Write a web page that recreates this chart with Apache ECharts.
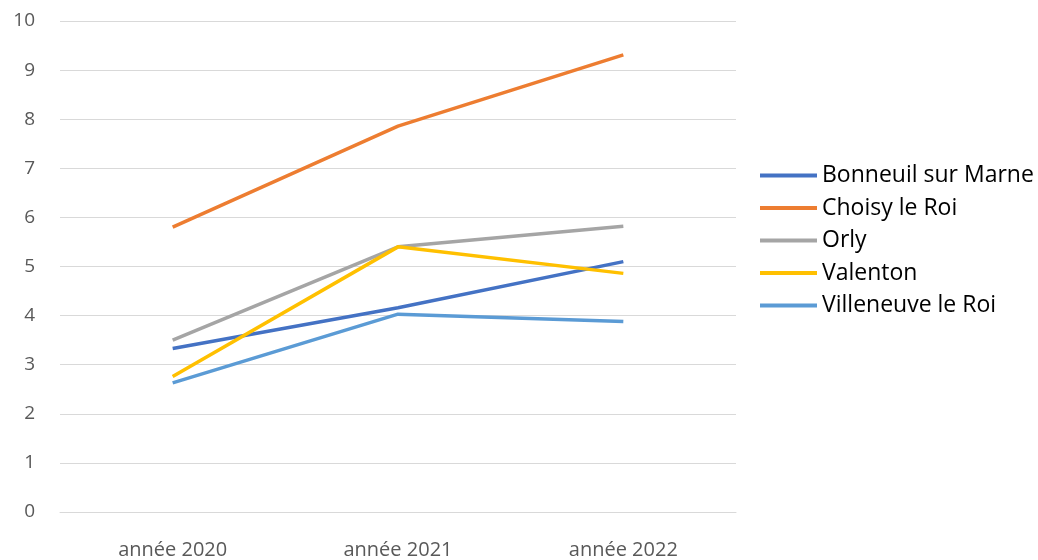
<!DOCTYPE html>
<html><head><meta charset="utf-8">
<script src="https://cdn.jsdelivr.net/npm/echarts@6/dist/echarts.min.js"></script>
<style>html,body{margin:0;padding:0;background:#fff}#c{width:1038px;height:560px}</style>
</head><body><div id="c"></div>
<script>
const categories = ['année 2020', 'année 2021', 'année 2022'];
const seriesNames = ['Bonneuil sur Marne', 'Choisy le Roi', 'Orly', 'Valenton', 'Villeneuve le Roi'];
const bonneuil = [3.33, 4.16, 5.10];
const choisy = [5.80, 7.86, 9.31];
const orly = [3.50, 5.40, 5.82];
const valenton = [2.76, 5.40, 4.86];
const villeneuve = [2.63, 4.03, 3.88];
const yTicks = [0, 10, 1];
const colors = ['#4472C4', '#ED7D31', '#A5A5A5', '#FFC000', '#5B9BD5'];
const values = [bonneuil, choisy, orly, valenton, villeneuve];
const font = '"Open Sans", Lato, sans-serif';
const chart = echarts.init(document.getElementById('c'));
chart.setOption({
  animation: false,
  grid: {left: 60, right: 302, top: 21, bottom: 48},
  legend: {
    orient: 'vertical', left: 760, top: 164, padding: 0,
    itemWidth: 57, itemHeight: 4, itemGap: 9.5, icon: 'rect',
    textStyle: {fontFamily: font, fontSize: 23, color: '#000', lineHeight: 23},
    data: seriesNames
  },
  xAxis: {
    type: 'category', data: categories, boundaryGap: true,
    axisLine: {lineStyle: {color: '#d9d9d9', width: 1}},
    axisTick: {show: false},
    axisLabel: {fontFamily: font, fontSize: 20, color: '#595959', margin: 28}
  },
  yAxis: {
    type: 'value', min: yTicks[0], max: yTicks[1], interval: yTicks[2],
    axisLine: {show: false}, axisTick: {show: false},
    splitLine: {lineStyle: {color: '#d9d9d9', width: 1}},
    axisLabel: {fontFamily: font, fontSize: 19, color: '#595959', margin: 25}
  },
  series: seriesNames.map((n, i) => ({
    name: n, type: 'line', data: values[i], symbol: 'none',
    lineStyle: {color: colors[i], width: 3.5}, itemStyle: {color: colors[i]}
  }))
});
</script></body></html>
